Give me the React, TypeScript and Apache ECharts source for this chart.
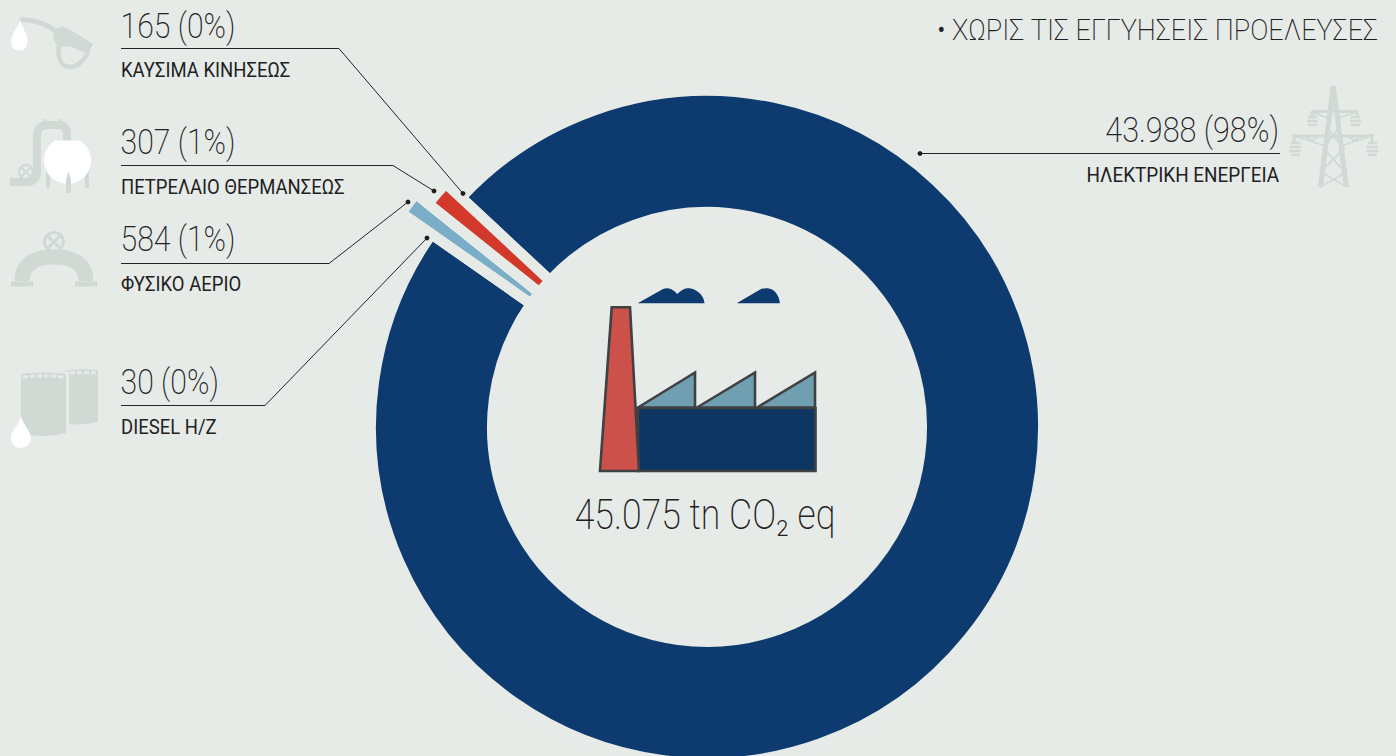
import React, { useEffect, useRef } from "react";
import * as echarts from "echarts";

const BG = "#e6ebe8";
const NAVY = "#0d3a6f";
const RED = "#d2392b";
const STEEL = "#7aaec6";
const ICON = "#d0d9d4";
const INK = "#1f2122";

// Labels as printed on the chart
const categories = ["ΗΛΕΚΤΡΙΚΗ ΕΝΕΡΓΕΙΑ", "ΚΑΥΣΙΜΑ ΚΙΝΗΣΕΩΣ", "ΠΕΤΡΕΛΑΙΟ ΘΕΡΜΑΝΣΕΩΣ", "ΦΥΣΙΚΟ ΑΕΡΙΟ", "DIESEL H/Z"];
const tonnes = ["43.988", "165", "307", "584", "30"];
const percents = ["98%", "0%", "1%", "1%", "0%"];
const totalLabel = "45.075 tn CO₂ eq";
const noteLabel = "• ΧΩΡΙΣ ΤΙΣ ΕΓΓΥΗΣΕΙΣ ΠΡΟΕΛΕΥΣΕΣ";

// Ring shares (degrees of the ring)
const ringShares = [352.0, 3.7, 4.3]; // electricity, natural gas, heating oil
const ringColors = [NAVY, STEEL, RED];
const ringOuter = [331, 368, 352];

const CX = 707;
const CY = 427;
const INNER = 220;
const GAP = 10.6;

function textEl(text: string, x: number, y: number, size: number, weight: number, sx: number, align = "left", fill = INK) {
  return {
    type: "text",
    x,
    y,
    scaleX: sx,
    z: 20,
    silent: true,
    style: { text, x: 0, y: 0, fontFamily: "Roboto", fontSize: size, fontWeight: weight, fill, align, verticalAlign: "middle" },
  };
}
function leader(points: number[][]) {
  const end = points[points.length - 1];
  return [
    { type: "polyline", z: 20, silent: true, shape: { points }, style: { fill: "none", stroke: "#222425", lineWidth: 1 } },
    { type: "circle", z: 21, silent: true, shape: { cx: end[0], cy: end[1], r: 2.4 }, style: { fill: "#1c1d1e" } },
  ];
}
function shape(name: string, style: any) {
  return { type: name, x: 0, y: 0, z: 10, silent: true, style };
}
function poly(points: number[][], fill: string, stroke?: string, lineWidth = 2.6) {
  return {
    type: "polygon",
    z: 12,
    silent: true,
    shape: { points },
    style: { fill, stroke: stroke || "none", lineWidth: stroke ? lineWidth : 0, lineJoin: "miter" },
  };
}

const paths: Record<string, string> = {
  nozzleHose: "M20 20 C32 19 44 23 56 31",
  nozzleBody: "M53 30 L62 26 L74 32 L93 44 L88 54 L78 50 C70 45 63 46 58 48 L54 40 Z",
  nozzleRing: "M59 46 C57 60 62 67 70 67 C78 67 84 60 88 52",
  dropFuel: "M20.5 20 C22 28 27.5 33 27.5 42 C27.5 47 24 50.5 19 50.5 C14.5 50.5 11 47 11 42 C11 33 18 28 20.5 20 Z",
  pipe: "M12 182 H28 C34 182 37 178 37 172 V135 C37 128 42 125 48 125 H58 C64 125 67 128 67 134 V142",
  pipeBits: "M33 133 H41 M33 160 H41 M45 119 V125 M61 119 V125 M11 177 V186",
  legs: "M48 165 V188 M87 165 V188",
  ball: "M55 140.5 H80 A23.5 23.5 0 1 1 55 140.5 Z",
  centreLeg: "M66 193 V180 L68.5 171 L71 180 V193 Z",
  valveOutline: "M26 165 A7 7 0 1 1 25.9 165 Z M21.5 167.5 L30.5 176.5 M30.5 167.5 L21.5 176.5",
  arch: "M22 281 C22 263 36 257 54 257 C72 257 86 263 86 281",
  archBits: "M11 284 H33 M75 284 H97 M42 250 V263 M66 250 V263",
  archValve: "M54 232.5 A9.5 9.5 0 1 1 53.9 232.5 Z M47.5 235.5 L60.5 248.5 M60.5 235.5 L47.5 248.5",
  barrelL: "M21 374 C35 372 52 372 66 374 V433 C52 437 35 437 21 433 Z",
  barrelR: "M63 371 C75 369 88 369 98 370 V422 C90 424 78 425 69 424 V372 Z",
  barrelSlatsL: "M23 377 C36 375.5 51 375.5 64 377",
  barrelSlatsR: "M70 373 C78 372.5 88 372.5 96 373",
  dropBarrel: "M21 416 C23 425 31 431 31 438 C31 444 26 448 21 448 C15 448 11 444 11 438 C11 431 19 425 21 416 Z",
  pylonLegs: "M1333.3 86 L1320.5 187 M1333.3 86 L1346.5 187",
  pylonArms: "M1312 111.5 H1357 M1294 136 H1372 M1312 111 V118 M1357 111 V118 M1294 134 V143 M1372 134 V143",
  pylonLace: "M1326 126 L1343 148 M1340 126 L1324 148 M1323 148 L1345 172 M1345 148 L1320 172 M1321 172 L1347 187 M1347 172 L1320 187 M1312 112 L1328 118 M1357 112 L1339 118 M1294 136 L1326 146 M1372 136 L1340 146 M1305 136 L1312 141 M1318 136 L1312 141 M1348 136 L1354 141 M1360 136 L1354 141",
  insulators: "M1308 117 H1317 M1307 121 H1318 M1308 125 H1317 M1351 117 H1360 M1350 121 H1361 M1351 125 H1360 M1291 143 H1300 M1289.5 147 H1301 M1289.5 151 H1301 M1291 155 H1300 M1368 143 H1377 M1366.5 147 H1378 M1366.5 151 H1378 M1368 155 H1377",
  smokeA: "M637.7 303.3 L663 289 C667 287.5 672 288 677.3 294 C682 289 686 287.5 691 288.5 C698 290 704 296 704.5 303.3 Z",
  smokeB: "M736.7 303.3 L761 289 C765 287.5 770 288 773 290 C777 293 779.5 298 779.8 303.3 Z",
};

export default function App() {
  const ref = useRef<HTMLDivElement>(null);
  useEffect(() => {
    if (!ref.current) return;
    Object.keys(paths).forEach((k) => {
      echarts.graphic.registerShape(k, (echarts.graphic as any).extendPath(paths[k], {}));
    });
    const chart = echarts.init(ref.current, null, { renderer: "svg" });

    const ringSeries = ringShares.map((_, i) => ({
      type: "pie",
      silent: true,
      center: [CX, CY],
      radius: [INNER - GAP / 2, ringOuter[i] + GAP / 2],
      startAngle: 137.0,
      clockwise: true,
      z: 2 + i,
      label: { show: false },
      labelLine: { show: false },
      data: ringShares.map((v, j) => ({
        value: v,
        name: j === i ? categories[[0, 3, 2][i]] : "",
        itemStyle:
          j === i
            ? { color: ringColors[i], borderColor: BG, borderWidth: GAP, borderJoin: "miter" }
            : { color: "rgba(0,0,0,0)", borderWidth: 0 },
      })),
    }));

    const S = 0.84;
    const V = 36;
    const C = 20;
    const CS = 0.925;
    const W = 200;
    const graphicEls: any[] = [
      // captions, left column
      textEl(`${tonnes[1]} (${percents[1]})`, 120.5, 25.5, V, W, S),
      textEl(categories[1], 121, 70, C, 400, CS),
      textEl(`${tonnes[2]} (${percents[2]})`, 120.5, 142, V, W, S),
      textEl(categories[2], 121, 187, C, 400, CS),
      textEl(`${tonnes[3]} (${percents[3]})`, 120.5, 239, V, W, S),
      textEl(categories[3], 121, 284, C, 400, CS),
      textEl(`${tonnes[4]} (${percents[4]})`, 120.5, 382, V, W, S),
      textEl(categories[4], 121, 427, C, 400, CS),
      // right column
      textEl(`${tonnes[0]} (${percents[0]})`, 1279, 130, V, W, 0.85, "right"),
      textEl(categories[0], 1279, 175, C, 400, 0.945, "right"),
      textEl(noteLabel, 1378, 30, 29, W, 0.933, "right"),
      textEl(totalLabel, 705, 515, 42, W, 0.85, "center"),
      // leaders
      ...leader([[121, 48.5], [339, 48.5], [463, 193.5]]),
      ...leader([[121, 165.5], [393, 165.5], [434, 191]]),
      ...leader([[121, 263.5], [329, 263.5], [408, 202]]),
      ...leader([[121, 405.5], [265, 405.5], [427, 238]]),
      ...leader([[1280, 153.5], [920, 153.5]]),
      // factory
      poly([[638, 408], [815.5, 408], [815.5, 471], [638, 471]], "#0d3662", "#3f4143"),
      poly([[638, 407.5], [695, 372.5], [695, 407.5]], "#6f9fb0", "#3f4143"),
      poly([[697, 407.5], [755, 372.5], [755, 407.5]], "#6f9fb0", "#3f4143"),
      poly([[757, 407.5], [815, 372.5], [815, 407.5]], "#6f9fb0", "#3f4143"),
      poly([[611.7, 307.3], [630, 307.3], [639, 471], [600, 471]], "#cc514b", "#3f4143"),
      // icons
      shape("nozzleHose", { fill: "none", stroke: ICON, lineWidth: 5 }),
      shape("nozzleBody", { fill: ICON }),
      shape("nozzleRing", { fill: "none", stroke: ICON, lineWidth: 4.5 }),
      shape("dropFuel", { fill: "#ffffff" }),
      shape("pipe", { fill: "none", stroke: ICON, lineWidth: 8 }),
      shape("pipeBits", { fill: "none", stroke: ICON, lineWidth: 2.5 }),
      shape("valveOutline", { fill: "none", stroke: ICON, lineWidth: 2 }),
      shape("legs", { fill: "none", stroke: ICON, lineWidth: 4 }),
      shape("ball", { fill: "#ffffff" }),
      shape("centreLeg", { fill: ICON }),
      shape("arch", { fill: "none", stroke: ICON, lineWidth: 15 }),
      shape("archBits", { fill: "none", stroke: ICON, lineWidth: 5 }),
      shape("archValve", { fill: "none", stroke: ICON, lineWidth: 3 }),
      shape("barrelR", { fill: ICON }),
      shape("barrelL", { fill: ICON }),
      shape("barrelSlatsL", { fill: "none", stroke: BG, lineWidth: 3, lineDash: [5, 2] }),
      shape("barrelSlatsR", { fill: "none", stroke: BG, lineWidth: 3, lineDash: [5, 2] }),
      shape("dropBarrel", { fill: "#ffffff" }),
      shape("pylonLegs", { fill: "none", stroke: ICON, lineWidth: 5 }),
      shape("pylonArms", { fill: "none", stroke: ICON, lineWidth: 3 }),
      shape("pylonLace", { fill: "none", stroke: ICON, lineWidth: 1.8 }),
      shape("insulators", { fill: "none", stroke: ICON, lineWidth: 2.6 }),
      shape("smokeA", { fill: NAVY }),
      shape("smokeB", { fill: NAVY }),
    ];

    chart.setOption({
      animation: false,
      backgroundColor: BG,
      series: ringSeries,
      graphic: { elements: graphicEls },
    });
    return () => chart.dispose();
  }, []);
  return <div ref={ref} style={{ position: "fixed", left: 0, top: 0, width: 1396, height: 756 }} />;
}
